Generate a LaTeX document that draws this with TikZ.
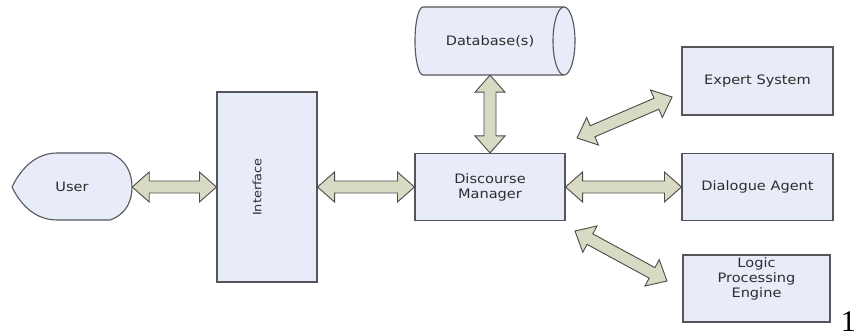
\documentclass[tikz,border=0pt]{standalone}
\usepackage{fontspec}
\setmainfont[FakeStretch=1.12]{DejaVu Sans}
\newfontfamily\numfont{Liberation Serif}
\usetikzlibrary{calc}

\definecolor{boxfill}{RGB}{232,236,248}
\definecolor{boxline}{RGB}{85,85,92}
\definecolor{arrfill}{RGB}{216,218,196}
\definecolor{arrline}{RGB}{75,75,75}
\definecolor{txt}{RGB}{45,45,45}

% arrow geometry: head length, head half-width, shaft half-width
\def\ahl{17pt}
\def\ahw{15pt}
\def\asw{6pt}

% block double-headed arrow between two named points
\newcommand\blockarrow[2]{%
  \path[biarrow] let \p1=(#1), \p2=(#2), \n1={atan2(\y2-\y1,\x2-\x1)} in
    (\p1)
    -- ($(\p1)+(\n1:\ahl)+(\n1+90:\ahw)$)
    -- ($(\p1)+(\n1:\ahl)+(\n1+90:\asw)$)
    -- ($(\p2)+(\n1:-\ahl)+(\n1+90:\asw)$)
    -- ($(\p2)+(\n1:-\ahl)+(\n1+90:\ahw)$)
    -- (\p2)
    -- ($(\p2)+(\n1:-\ahl)+(\n1-90:\ahw)$)
    -- ($(\p2)+(\n1:-\ahl)+(\n1-90:\asw)$)
    -- ($(\p1)+(\n1:\ahl)+(\n1-90:\asw)$)
    -- ($(\p1)+(\n1:\ahl)+(\n1-90:\ahw)$)
    -- cycle;}

\tikzset{
  lbl/.style={font=\fontsize{13}{15}\selectfont, text=txt, align=center, inner sep=0pt},
  box/.style={lbl, draw=boxline, fill=boxfill, line width=1.1pt},
  shapeline/.style={draw=boxline, fill=boxfill, line width=1.1pt},
  biarrow/.style={draw=arrline, fill=arrfill, line width=0.9pt, line join=miter},
}

\begin{document}
\begin{tikzpicture}[x=1pt, y=-1pt]
  \useasboundingbox[fill=white] (0,0) rectangle (858,336);

  % user terminal shape
  \draw[shapeline] (12,187) .. controls (22,166) and (38,153) .. (57,153) -- (110,153)
    .. controls (127,160) and (132,174) .. (132,187)
    .. controls (132,200) and (127,214) .. (110,220) -- (57,220)
    .. controls (38,220) and (22,208) .. (12,187) -- cycle;
  \node[lbl, minimum width=120pt, minimum height=67pt] (user) at (72,187) {User};

  % interface
  \node[box, minimum width=100pt, minimum height=190pt] (iface) at (267,187) {};
  \node[lbl, font=\fontsize{11.5}{13}\selectfont, rotate=90] (ifacetext) at (257,187) {Interface};

  % discourse manager
  \node[box, minimum width=150pt, minimum height=67pt] (dm) at (490,187) {Discourse\\Manager};

  % database: horizontal cylinder, body then visible end cap
  \draw[shapeline] (564,7) -- (423,7)
    .. controls (418.6,7) and (415,22.2) .. (415,41)
    .. controls (415,59.8) and (418.6,75) .. (423,75) -- (564,75);
  \fill[boxfill] (423,7.6) rectangle (564,74.4);
  \draw[shapeline] (564,41) ellipse [x radius=11, y radius=34];
  \node[lbl, minimum width=160pt, minimum height=68pt] (db) at (495,41) {};
  \node[lbl] (dbtext) at (490,41) {Database(s)};

  % right-hand components
  \node[box, minimum width=151pt, minimum height=68pt] (expert) at (757.5,81) {Expert System};
  \node[box, minimum width=151pt, minimum height=67pt] (dialog) at (757.5,187) {Dialogue Agent};
  \node[box, minimum width=147pt, minimum height=67pt,
        label={[lbl, yshift=10pt]center:Logic\\Processing\\Engine}] (logic) at (756.5,288.5) {};

  % free ends of the diagonal arrows
  \coordinate (ex1) at (577,138);
  \coordinate (ex2) at (672,97);
  \coordinate (lg1) at (575,231);
  \coordinate (lg2) at (667,281);

  % connectors
  \blockarrow{user.east}{iface.west}
  \blockarrow{iface.east}{dm.west}
  \blockarrow{dm.north |- db.south}{dm.north}
  \blockarrow{dm.east}{dialog.west}
  \blockarrow{ex1}{ex2}
  \blockarrow{lg1}{lg2}

  % page number
  \node[font=\numfont\fontsize{30}{30}\selectfont, anchor=base east, inner sep=0pt] (pagenum) at (856,331) {1};
\end{tikzpicture}
\end{document}
